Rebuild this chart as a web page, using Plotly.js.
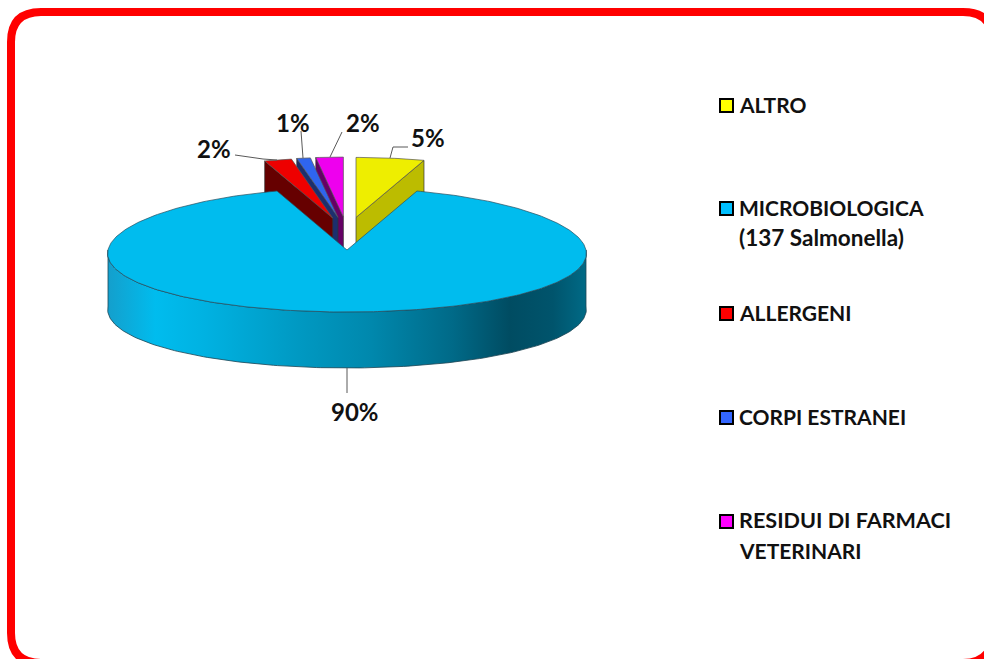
<!DOCTYPE html>
<html>
<head>
<meta charset="utf-8">
<script src="https://cdn.plot.ly/plotly-3.0.1.min.js"></script>
<style>html,body{margin:0;padding:0;background:#fff;overflow:hidden}</style>
</head>
<body>
<div id="chart" style="width:984px;height:659px"></div>
<script>
// ---- data ----
const categories = ["ALTRO", "MICROBIOLOGICA", "ALLERGENI", "CORPI ESTRANEI", "RESIDUI DI FARMACI"];
const legendLines = [["ALTRO"], ["MICROBIOLOGICA", "(137 Salmonella)"], ["ALLERGENI"], ["CORPI ESTRANEI"], ["RESIDUI DI FARMACI", "VETERINARI"]];
const legendSizes = [[21], [21, 22.5], [21], [21], [21.6, 21]];
const percentValues = [5, 90, 2, 1, 2];
const topColors = ["#eeee00", "#00bcee", "#ee0000", "#2f65ee", "#ee00ee"];
const wallColors = ["#bcbc00", "#00bcee", "#660000", "#1c2f6e", "#660066"];
const legendColors = ["#ffff00", "#00bfff", "#ff0000", "#3366ff", "#ff00ff"];
const legendY = [104, 207, 312, 416, 520];
const legendLineStep = 30.5;
const labelPos = [[428, 137], [355, 411], [214, 148], [293, 122], [363, 122]];
const leaders = [
  [[390, 158], [393, 147], [408, 147]],
  [[347, 368], [347, 393]],
  [[235, 155], [263, 159], [277, 160]],
  [[303, 158], [301, 131]],
  [[330, 157], [342, 132]]
];

// ---- pie geometry (plot units are pixels of the page) ----
const cx = 347, cy = 250, rx = 239, ry = 62, depth = 56, persp = 0.055;
const pieceRx = 220, pieceRy = 60, explodeX = 57.6, explodeY = 33;
const rad = d => d * Math.PI / 180;
const total = percentValues.reduce((a, b) => a + b, 0);
let acc = 0;
const spans = percentValues.map(v => { const s = acc; acc += v / total * 360; return [s, acc]; });

function arc(x0, y0, Rx, Ry, a, b, dy, p) {
  const xs = [], ys = [], n = Math.max(2, Math.ceil(Math.abs(b - a)));
  for (let i = 0; i <= n; i++) {
    const t = rad(a + (b - a) * i / n);
    xs.push(x0 + Rx * Math.sin(t) * (1 - p * Math.cos(t)));
    ys.push(y0 - Ry * Math.cos(t) + dy);
  }
  return [xs, ys];
}
function poly(xs, ys, fill, lineColor, w, extra) {
  return Object.assign({type: "scatter", mode: "lines", x: xs, y: ys, fill: "toself", fillcolor: fill,
    line: {color: lineColor, width: w}, hoverinfo: "skip", showlegend: false}, extra || {});
}

const traces = [];
// exploded slices: all walls first (nearest the left on top), then all tops; the big slice hides the lower walls
const exploded = [4, 3, 2, 0];
const pieces = exploded.map(i => {
  const [a, b] = spans[i], mid = rad((a + b) / 2);
  const ax = cx + explodeX * Math.sin(mid), ay = cy - explodeY * Math.cos(mid);
  const [ox, oy] = arc(ax, ay, pieceRx, pieceRy, a, b, 0, 0);
  return {i, ax, ay, ox, oy};
});
pieces.forEach(({i, ax, ay, ox, oy}) => {
  const edge = i === 0 ? ox.length - 1 : 0;
  traces.push(poly([ax, ox[edge], ox[edge], ax, ax], [ay, oy[edge], oy[edge] + depth, ay + depth, ay],
    wallColors[i], "#333333", 0.7));
});
pieces.forEach(({i, ax, ay, ox, oy}) => {
  traces.push(poly([ax, ...ox, ax], [ay, ...oy, ay], topColors[i], "#555555", 0.7));
});
// big slice: side with gradient, then top
{
  const m = spans[1];
  const [tx, ty] = arc(cx, cy, rx, ry, 90, 270, 0, persp);
  const [bx, by] = arc(cx, cy, rx, ry, 270, 90, depth, persp);
  traces.push(poly([...tx, ...bx, tx[0]], [...ty, ...by, ty[0]], "#00bcee", "#1d4453", 0.8, {
    fillgradient: {type: "horizontal", colorscale: [
      [0, "#149fcc"], [0.1, "#00bcee"], [0.2, "#00b2e2"], [0.4, "#0099c2"], [0.55, "#0088ad"],
      [0.72, "#006a88"], [0.84, "#004c62"], [0.93, "#00546c"], [1, "#006a86"]]}
  }));
  const [ox, oy] = arc(cx, cy, rx, ry, m[0], m[1], 0, persp);
  traces.push(poly([cx, ...ox, cx], [cy, ...oy, cy], topColors[1], "#2b4f5e", 0.7));
}
// leader lines
leaders.forEach(l => traces.push({type: "scatter", mode: "lines", x: l.map(p => p[0]), y: l.map(p => p[1]),
  line: {color: "#595959", width: 1}, hoverinfo: "skip", showlegend: false}));
// legend swatches
traces.push({type: "scatter", mode: "markers", x: categories.map(() => 726.5), y: legendY.map(v => v + 1.5),
  marker: {symbol: "square", size: 13, color: legendColors, line: {color: "#000000", width: 2}},
  hoverinfo: "skip", showlegend: false});

const font = {family: "Lato, 'Noto Sans', sans-serif", color: "#111111"};
const annotations = [];
percentValues.forEach((v, i) => annotations.push({x: labelPos[i][0], y: labelPos[i][1], text: "<b>" + v + "%</b>",
  showarrow: false, xanchor: "center", yanchor: "middle", font: Object.assign({size: 24}, font)}));
legendLines.forEach((lines, i) => lines.forEach((t, j) => annotations.push({x: 739, y: legendY[i] + j * legendLineStep,
  text: "<b>" + t + "</b>", showarrow: false, xanchor: "left", yanchor: "middle", xshift: -2,
  font: Object.assign({size: legendSizes[i][j]}, font)})));

const frame = "M 11 42 Q 11 12 41 12 L 963 12 Q 993 12 993 42 L 993 633 Q 993 663 963 663 L 41 663 Q 11 663 11 633 Z";
const layout = {
  width: 984, height: 659, margin: {l: 0, r: 0, t: 0, b: 0}, showlegend: false,
  paper_bgcolor: "#ffffff", plot_bgcolor: "#ffffff",
  xaxis: {range: [0, 984], visible: false, fixedrange: true},
  yaxis: {range: [659, 0], visible: false, fixedrange: true},
  shapes: [{type: "path", xref: "x", yref: "y", path: frame, line: {color: "#ff0000", width: 8}, fillcolor: "rgba(0,0,0,0)", layer: "above"}],
  annotations: annotations
};
Plotly.newPlot("chart", traces, layout, {displayModeBar: false, staticPlot: true});
</script>
</body>
</html>
